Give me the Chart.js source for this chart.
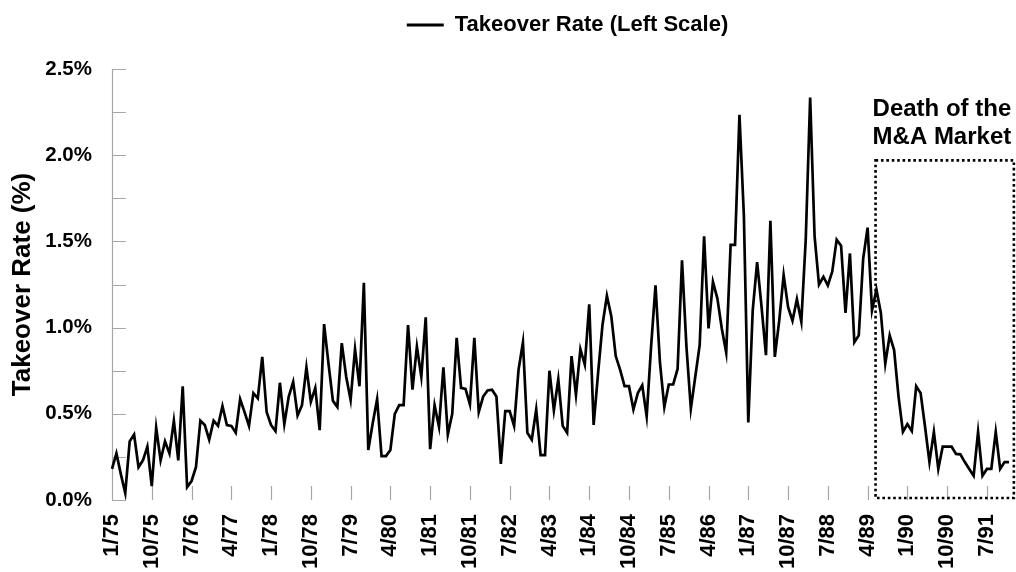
<!DOCTYPE html>
<html><head><meta charset="utf-8">
<script src="https://cdn.jsdelivr.net/npm/chart.js@4/dist/chart.umd.min.js"></script>
<style>html,body{margin:0;padding:0;background:#fff;}canvas{display:block}</style>
</head><body>
<canvas id="c" width="1016" height="572"></canvas>
<script>
const FONT = "'Liberation Sans', Arial, Helvetica, sans-serif";

// monthly categories 1/75 .. 12/91
const categories = [];
for (let yr = 75; yr <= 91; yr++) { for (let m = 1; m <= 12; m++) categories.push(m + '/' + yr); }

const tickLabels = ['1/75','10/75','7/76','4/77','1/78','10/78','7/79','4/80','1/81','10/81','7/82','4/83',
  '1/84','10/84','7/85','4/86','1/87','10/87','7/88','4/89','1/90','10/90','7/91'];

const seriesName = 'Takeover Rate (Left Scale)';
const takeoverRate = [
  0.18,0.27,0.15,0.04,0.34,0.38,0.19,0.23,0.31,0.08,0.42,0.23,
  0.34,0.27,0.46,0.23,0.66,0.075,0.11,0.19,0.46,0.435,0.35,0.46,
  0.43,0.545,0.435,0.43,0.39,0.585,0.51,0.43,0.62,0.59,0.83,0.51,
  0.435,0.40,0.68,0.44,0.60,0.685,0.49,0.55,0.77,0.57,0.65,0.405,
  1.02,0.79,0.575,0.54,0.91,0.715,0.58,0.875,0.66,1.26,0.29,0.445,
  0.585,0.255,0.255,0.29,0.50,0.55,0.55,1.015,0.64,0.89,0.715,1.06,
  0.295,0.55,0.425,0.77,0.38,0.50,0.94,0.65,0.645,0.555,0.94,0.51,
  0.60,0.635,0.64,0.60,0.21,0.515,0.515,0.43,0.755,0.915,0.39,0.35,
  0.525,0.26,0.26,0.75,0.52,0.70,0.43,0.39,0.835,0.61,0.875,0.785,
  1.135,0.435,0.735,1.015,1.185,1.065,0.835,0.755,0.66,0.66,0.525,0.62,
  0.665,0.485,0.89,1.245,0.80,0.54,0.67,0.67,0.76,1.39,0.89,0.53,
  0.715,0.90,1.53,0.995,1.265,1.17,0.995,0.855,1.48,1.48,2.235,1.65,
  0.45,1.10,1.38,1.12,0.84,1.62,0.83,1.04,1.305,1.12,1.04,1.165,
  1.035,1.51,2.335,1.53,1.25,1.295,1.245,1.325,1.51,1.475,1.085,1.43,
  0.915,0.955,1.40,1.58,1.10,1.22,1.085,0.79,0.955,0.87,0.60,0.395,
  0.44,0.40,0.66,0.62,0.425,0.22,0.395,0.18,0.31,0.31,0.31,0.267,
  0.265,0.22,0.18,0.14,0.395,0.14,0.18,0.18,0.395,0.18,0.22,0.22
];

// annotation box (in data units: month index / percent)
const noteLines = ['Death of the', 'M&A Market'];
const noteBox = { xFrom: 172.8, xTo: 204.1, yTop: 1.97, yBottom: 0 };

const AXIS_GRAY = '#a6a6a6';

const decor = {
  id: 'decor',
  beforeDraw(chart) {
    const lg = chart.legend;
    if (lg && !lg._shifted) { lg.left += 7; lg.right += 7; lg._shifted = true; }
  },
  beforeDatasetsDraw(chart) {
    const { ctx, chartArea: a, scales: { x, y } } = chart;
    ctx.save();
    ctx.strokeStyle = AXIS_GRAY; ctx.lineWidth = 1.2;
    ctx.beginPath();
    const ax = Math.round(a.left) + 0.5;
    ctx.moveTo(ax, y.getPixelForValue(2.5)); ctx.lineTo(ax, y.getPixelForValue(0));
    y.ticks.forEach(t => {
      const py = Math.round(y.getPixelForValue(t.value)) + 0.5;
      ctx.moveTo(a.left, py); ctx.lineTo(a.left + 14, py);
    });
    categories.forEach((c, i) => {
      if (tickLabels.includes(c)) {
        const px = Math.round(x.getPixelForValue(i)) + 0.5;
        ctx.moveTo(px, a.bottom); ctx.lineTo(px, a.bottom - 14);
      }
    });
    ctx.stroke();
    ctx.restore();
  },
  afterDatasetsDraw(chart) {
    const { ctx, scales: { x, y } } = chart;
    ctx.save();
    const l = x.getPixelForValue(noteBox.xFrom), r = x.getPixelForValue(noteBox.xTo);
    const t = y.getPixelForValue(noteBox.yTop), b = y.getPixelForValue(noteBox.yBottom) - 2;
    ctx.strokeStyle = '#000'; ctx.lineWidth = 2.6; ctx.setLineDash([2.6, 2.8]);
    ctx.strokeRect(l, t, r - l, b - t);
    ctx.setLineDash([]);
    ctx.fillStyle = '#000';
    ctx.font = 'bold 24px ' + FONT;
    ctx.textAlign = 'left'; ctx.textBaseline = 'alphabetic';
    ctx.fillText(noteLines[0], l - 3, t - 44);
    ctx.fillText(noteLines[1], l - 3, t - 16);
    ctx.restore();
  }
};

const legendSpace = {
  id: 'legendSpace',
  beforeInit(chart) {
    const fit = chart.legend.fit;
    chart.legend.fit = function () { fit.call(this); this.height += 23; };
  }
};

new Chart(document.getElementById('c'), {
  type: 'line',
  data: {
    labels: categories,
    datasets: [{
      label: seriesName,
      data: takeoverRate,
      borderColor: '#000',
      backgroundColor: '#000',
      borderWidth: 2.7,
      pointRadius: 0,
      tension: 0,
      fill: false
    }]
  },
  options: {
    responsive: false,
    devicePixelRatio: 1,
    animation: false,
    layout: { padding: { top: 0, left: 0, right: 7, bottom: 0 } },
    plugins: {
      legend: {
        position: 'top',
        fullSize: false,
        labels: {
          boxWidth: 37, boxHeight: 3, color: '#000', padding: 14,
          font: { size: 22, weight: 'bold', family: FONT },
          generateLabels(chart) {
            const items = Chart.defaults.plugins.legend.labels.generateLabels(chart);
            items.forEach(it => { it.lineWidth = 0; it.fillStyle = '#000'; it.strokeStyle = '#000'; });
            return items;
          }
        }
      },
      tooltip: { enabled: false }
    },
    scales: {
      x: {
        type: 'category',
        grid: { display: false, drawTicks: false },
        border: { display: false },
        ticks: {
          autoSkip: false, maxRotation: 90, minRotation: 90, padding: 14,
          color: '#000', font: { size: 22, weight: 'bold', family: FONT },
          callback(val, idx) { const c = categories[idx]; return tickLabels.includes(c) ? c : ''; }
        },
        afterFit(s) { s.height = 72; s.paddingLeft = 0; s.paddingRight = 0; }
      },
      y: {
        min: 0, max: 2.5,
        grid: { display: false, drawTicks: false },
        border: { display: false },
        ticks: {
          stepSize: 0.25, padding: 20, color: '#000',
          font: { size: 20.5, weight: 'bold', family: FONT },
          callback(v) { return Math.round(v * 100) % 50 === 0 ? v.toFixed(1) + '%' : ''; }
        },
        title: {
          display: true, text: 'Takeover Rate (%)', color: '#000',
          font: { size: 26, weight: 'bold', family: FONT },
          padding: { top: 7, bottom: 0 }
        },
        afterFit(s) { s.width = 112; s.paddingTop = 0; s.paddingBottom = 0; }
      }
    }
  },
  plugins: [decor, legendSpace]
});
</script>
</body></html>
